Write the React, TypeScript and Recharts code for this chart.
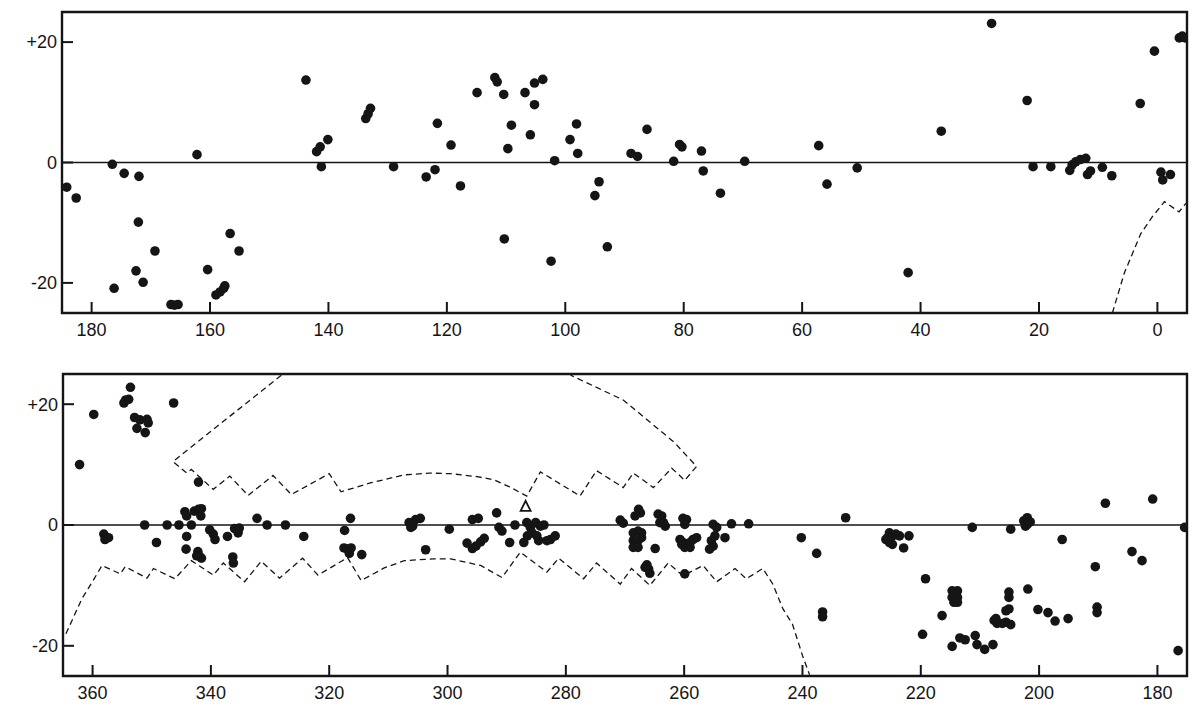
import { ReferenceArea, ReferenceLine, Scatter, ScatterChart, XAxis, YAxis } from 'recharts';

type Pt = [number, number];

const topLonTicks = [180, 160, 140, 120, 100, 80, 60, 40, 20, 0];
const bottomLonTicks = [360, 340, 320, 300, 280, 260, 240, 220, 200, 180];
const latTicks = [-20, 0, 20];
const latMarkTicks = [-20, 20];

// [longitude, latitude]
const topStars: Pt[] = [
  [184.2, -4.1], [182.6, -5.9], [176.5, -0.3], [174.5, -1.8], [172.0, -2.3], [172.1, -9.9],
  [169.3, -14.7], [172.5, -18.0], [171.3, -19.9], [176.2, -20.9], [166.6, -23.6], [166.0, -23.7],
  [165.4, -23.6], [162.2, 1.3], [160.4, -17.8], [159.0, -22.0], [158.3, -21.5], [157.7, -20.9],
  [157.5, -20.5], [156.6, -11.8], [155.1, -14.7], [143.8, 13.7], [142.0, 1.8], [141.4, 2.6],
  [140.1, 3.8], [141.2, -0.7], [133.7, 7.3], [133.3, 8.1], [132.9, 9.0], [129.0, -0.7],
  [123.5, -2.4], [122.0, -1.2], [121.6, 6.5], [119.3, 2.9], [117.7, -3.9], [114.9, 11.6],
  [111.9, 14.1], [111.5, 13.4], [110.4, 11.3], [109.1, 6.2], [109.7, 2.3], [110.3, -12.7],
  [106.8, 11.6], [105.9, 4.6], [105.2, 9.6], [105.2, 13.2], [103.8, 13.8], [101.8, 0.3],
  [102.4, -16.4], [99.2, 3.8], [98.1, 6.4], [97.9, 1.5], [95.0, -5.5], [94.3, -3.2],
  [92.9, -14.0], [88.9, 1.5], [87.8, 1.0], [86.2, 5.5], [81.7, 0.2], [80.7, 3.0], [80.3, 2.6],
  [77.0, 1.9], [76.7, -1.4], [73.8, -5.1], [69.7, 0.2], [57.2, 2.8], [55.8, -3.6], [50.7, -0.9],
  [42.1, -18.3], [36.5, 5.2], [28.0, 23.1], [22.0, 10.3], [21.0, -0.7], [18.0, -0.7],
  [14.8, -1.3], [14.4, -0.4], [13.8, 0.1], [13.0, 0.5], [12.1, 0.7], [11.8, -2.0], [11.3, -1.4],
  [9.3, -0.8], [7.7, -2.2], [2.9, 9.8], [0.5, 18.5], [-0.6, -1.6], [-0.9, -2.9], [-2.2, -2.0],
  [-3.7, 20.7], [-4.2, 21.0], [-4.7, 20.7],
];

const topBoundary: Pt[] = [
  [7.6, -25], [5.6, -18.4], [4.2, -15.1], [2.8, -11.8], [0.85, -9.0], [-1.2, -6.5],
  [-3.65, -8.2], [-4.8, -6.8],
];

const bottomStars: Pt[] = [
  [362.2, 10.0], [359.8, 18.3], [354.7, 20.2], [354.4, 20.7], [353.9, 20.8], [353.6, 22.8],
  [352.9, 17.8], [352.5, 16.0], [352.0, 17.4], [350.8, 17.5], [350.6, 16.9], [351.1, 15.3],
  [346.3, 20.2], [358.1, -1.5], [357.9, -2.4], [357.3, -2.1], [351.2, 0], [349.2, -2.9],
  [347.4, 0], [345.4, 0], [344.4, 2.2], [344.1, 1.5], [343.3, 0], [344.1, -1.9], [344.2, -4.0],
  [342.8, 2.3], [342.1, 2.6], [341.6, 2.7], [341.7, 1.5], [342.2, -4.4], [341.9, -5.2],
  [341.6, -5.5], [342.4, -5.1], [342.1, 7.1], [340.2, -0.8], [339.6, -1.5], [339.3, -2.4],
  [337.2, -1.9], [336.3, -5.3], [336.2, -6.3], [336.0, -0.6], [335.4, -1.3], [335.2, -0.5],
  [332.2, 1.1], [330.5, 0], [327.4, 0], [324.3, -1.9], [317.4, -0.9], [316.4, 1.1],
  [317.5, -3.8], [316.9, -4.0], [316.3, -3.8], [316.6, -4.7], [314.5, -4.9],
  [306.5, 0.4], [305.9, -0.2], [305.4, 0.9], [304.6, 1.1], [306.2, -0.4], [303.7, -4.1],
  [299.7, -0.7], [296.7, -3.0], [295.8, -3.9], [295.2, -3.5], [294.4, -2.8], [293.8, -2.2],
  [295.8, 0.9], [294.8, 1.1], [291.7, 2.0], [291.3, -0.4], [290.8, -1.0], [289.5, -2.9],
  [288.6, 0], [287.1, -2.9], [286.6, 0.4], [286.0, -0.4], [285.7, -1.3], [285.1, 0.4],
  [284.9, -1.8], [284.6, -2.6], [284.3, -0.2], [283.7, 0], [283.2, -2.6], [282.6, -2.4],
  [281.8, -1.8], [286.5, -1.8], [270.8, 0.8], [270.3, 0.3], [267.7, 2.6], [267.4, 2.0],
  [268.3, 1.5], [268.6, -1.3], [267.8, -1.0], [267.2, -1.3], [268.6, -2.6], [267.8, -2.6],
  [267.2, -2.1], [268.6, -3.7], [267.8, -3.7], [264.9, -3.9], [266.6, -7.0], [266.0, -7.3],
  [265.8, -8.0], [266.3, -6.6], [264.4, 1.8], [263.8, 1.5], [263.5, 0.4], [264.1, 0.4],
  [263.2, -0.2], [260.2, 1.1], [259.6, 0.9], [259.9, 0.1], [260.7, -2.4], [260.2, -2.9],
  [259.6, -3.2], [259.0, -2.9], [258.5, -2.4], [257.9, -2.1], [259.9, -3.7], [259.0, -3.7],
  [260.4, -3.2], [259.9, -8.1], [255.1, 0.1], [254.5, -0.4], [255.4, -2.6], [255.1, -3.5],
  [255.7, -4.0], [254.8, -1.8], [253.1, -2.1], [252.0, 0.2], [249.1, 0.2], [240.2, -2.1],
  [237.6, -4.7], [236.6, -14.4], [236.6, -15.2], [232.7, 1.2], [225.9, -2.4], [225.3, -1.3],
  [224.8, -1.8], [224.2, -1.5], [223.6, -1.8], [225.3, -2.9], [224.8, -3.2], [225.6, -2.1],
  [222.0, -1.8], [222.9, -3.8], [219.2, -8.9], [219.7, -18.1], [216.4, -15.0], [214.7, -10.9],
  [213.8, -10.9], [214.7, -12.0], [213.8, -12.0], [214.4, -12.8], [213.8, -12.8],
  [214.7, -20.1], [213.4, -18.7], [212.5, -19.0], [211.3, -0.4], [210.8, -18.3], [210.5, -19.8],
  [209.2, -20.6], [207.8, -19.8], [207.6, -15.8], [207.1, -16.3], [206.2, -16.3], [207.3, -15.5],
  [205.6, -16.1], [204.8, -16.5], [205.6, -14.2], [205.1, -13.9], [205.1, -11.1], [205.1, -12.0],
  [204.8, -0.7], [202.6, 0.7], [202.0, 1.2], [201.5, 0.5], [202.3, -0.2], [202.0, 0.1],
  [201.9, -10.6], [200.2, -14.0], [198.5, -14.5], [197.3, -15.9], [196.1, -2.4], [195.1, -15.5],
  [190.5, -6.9], [190.2, -13.6], [190.2, -14.5], [188.8, 3.6], [184.3, -4.4], [182.6, -5.9],
  [180.8, 4.3], [176.5, -20.8], [175.4, -0.4],
];

const bottomOpenTriangles: Pt[] = [[286.8, 3.0]];

const bottomUpperBoundary: Pt[] = [
  [328.1, 24.8], [346.4, 10.5], [344.1, 8.6], [343.3, 9.2], [339.6, 5.9], [336.8, 8.1],
  [333.7, 4.9], [329.5, 8.2], [326.4, 5.05], [320.0, 8.5], [318.0, 5.5], [312.9, 7.0],
  [307.3, 8.3], [303.0, 8.6], [299.5, 8.5], [295.0, 8.0], [292.2, 7.5], [289.5, 6.3],
  [286.6, 4.8], [284.3, 8.8], [277.6, 4.8], [274.8, 9.0], [270.3, 6.2], [268.6, 8.6],
  [265.2, 6.2], [262.1, 9.4], [259.9, 7.4], [257.9, 9.7], [261.8, 13.8], [270.3, 20.7],
  [279.2, 24.8],
];

const bottomLowerBoundary: Pt[] = [
  [364.5, -18.0], [361.8, -12.2], [360.1, -9.5], [358.4, -6.7], [355.3, -8.1], [354.5, -6.9],
  [350.8, -8.8], [349.7, -7.2], [346.1, -8.9], [343.3, -5.9], [339.6, -8.3], [337.9, -6.3],
  [334.3, -9.4], [331.5, -6.0], [328.4, -8.8], [324.5, -5.5], [321.9, -8.3], [316.9, -5.4],
  [314.6, -9.2], [310.7, -7.1], [307.3, -5.9], [302.3, -5.6], [299.5, -5.6], [294.4, -6.7],
  [290.8, -8.7], [287.7, -4.5], [283.2, -7.8], [281.2, -5.5], [277.0, -8.9], [274.8, -6.3],
  [270.8, -9.8], [268.9, -7.2], [265.8, -10.0], [262.7, -6.3], [260.2, -8.4], [256.8, -6.7],
  [254.5, -9.4], [251.4, -7.2], [249.5, -8.9], [246.7, -7.2], [245.0, -9.8], [243.3, -13.9],
  [241.7, -16.4], [240.0, -21.6], [238.8, -24.8],
];

const INK = '#151515';
const FONT = '"Liberation Sans", Arial, sans-serif';
const TICK_LEN = 11;

const toRows = (pts: Pt[]) => pts.map(([x, y]) => ({ x, y }));
const latLabel = (v: number) => (v > 0 ? `+${v}` : String(v));

const Dot = (props: any) => <circle cx={props.cx} cy={props.cy} r={4.8} fill={INK} />;
const OpenTriangle = (props: any) => {
  const { cx, cy } = props;
  return (
    <path
      d={`M${cx},${cy - 6} L${cx + 5},${cy + 4} L${cx - 5},${cy + 4} Z`}
      fill="#fff"
      stroke={INK}
      strokeWidth={1.8}
    />
  );
};
const NoMark = () => <g />;

const tickStyle = { fontSize: 18, fill: INK, fontFamily: FONT };
const tickLineStyle = { stroke: INK, strokeWidth: 2 };
const dashLine = { stroke: INK, strokeWidth: 1.3, strokeDasharray: '6 4' };

type PanelProps = {
  height: number;
  top: number;
  axisWidth: number;
  lon: [number, number];
  ticks: number[];
  stars: Pt[];
  boundaries: Pt[][];
  triangles?: Pt[];
};

// tick marks point into the frame: a negative tickSize flips them inward,
// tickMargin adds the length back so labels stay outside
function Panel({ height, top, axisWidth, lon, ticks, stars, boundaries, triangles = [] }: PanelProps) {
  const [lo, hi] = lon;
  return (
    <ScatterChart width={1200} height={height} margin={{ top, right: 13, bottom: 0, left: 0 }}>
      <XAxis
        type="number"
        dataKey="x"
        domain={[lo, hi]}
        reversed
        ticks={ticks}
        allowDataOverflow
        axisLine={false}
        tickLine={tickLineStyle}
        tickSize={-TICK_LEN}
        tickMargin={TICK_LEN + 10}
        height={30}
        tick={tickStyle}
      />
      <XAxis
        xAxisId="frameTop"
        orientation="top"
        type="number"
        dataKey="x"
        domain={[lo, hi]}
        reversed
        ticks={ticks}
        allowDataOverflow
        axisLine={false}
        tickLine={tickLineStyle}
        tickSize={-TICK_LEN}
        height={0}
        tick={false}
      />
      <YAxis
        type="number"
        dataKey="y"
        domain={[-25, 25]}
        ticks={latTicks}
        allowDataOverflow
        width={axisWidth}
        axisLine={false}
        tickLine={tickLineStyle}
        tickSize={-TICK_LEN}
        tickMargin={TICK_LEN + 5}
        tickFormatter={latLabel}
        tick={tickStyle}
      />
      <YAxis
        yAxisId="frameRight"
        orientation="right"
        type="number"
        dataKey="y"
        domain={[-25, 25]}
        ticks={latMarkTicks}
        allowDataOverflow
        width={0}
        axisLine={false}
        tickLine={tickLineStyle}
        tickSize={-TICK_LEN}
        tick={false}
      />
      <ReferenceLine y={0} stroke={INK} strokeWidth={1.5} />
      {boundaries.map((b, i) => (
        <Scatter key={`bd${i}`} data={toRows(b)} line={dashLine} shape={NoMark} isAnimationActive={false} />
      ))}
      <Scatter data={toRows(stars)} shape={Dot} isAnimationActive={false} />
      {triangles.length > 0 && (
        <Scatter data={toRows(triangles)} shape={OpenTriangle} isAnimationActive={false} />
      )}
      <ReferenceArea x1={lo} x2={hi} y1={-25} y2={25} fill="none" stroke={INK} strokeWidth={2.4} />
    </ScatterChart>
  );
}

export default function App() {
  return (
    <div style={{ width: 1200, height: 717, background: '#fff' }}>
      <style>{'body{margin:0;background:#fff}'}</style>
      <Panel
        height={343}
        top={12}
        axisWidth={62}
        lon={[-5, 185]}
        ticks={topLonTicks}
        stars={topStars}
        boundaries={[topBoundary]}
      />
      <Panel
        height={363}
        top={31}
        axisWidth={63}
        lon={[175, 365]}
        ticks={bottomLonTicks}
        stars={bottomStars}
        boundaries={[bottomUpperBoundary, bottomLowerBoundary]}
        triangles={bottomOpenTriangles}
      />
    </div>
  );
}
